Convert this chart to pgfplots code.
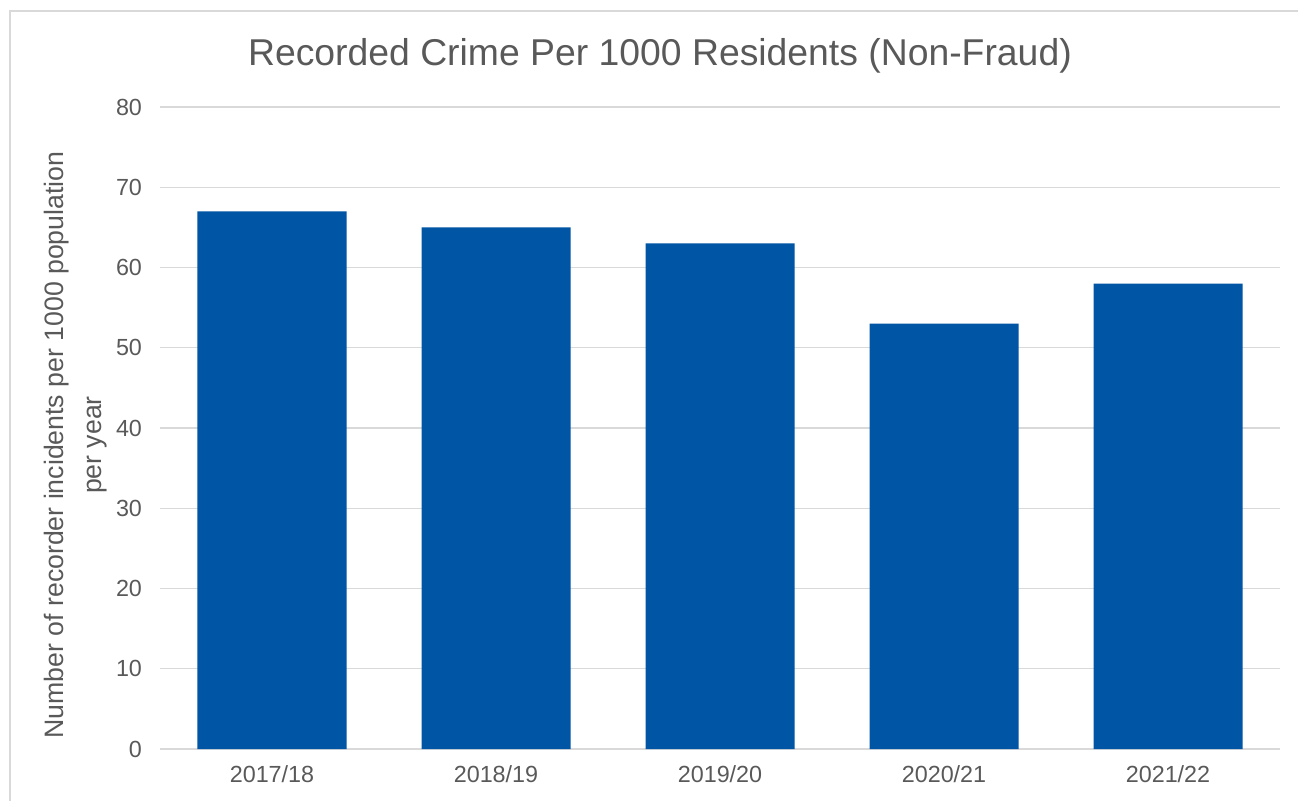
\documentclass[border=0pt]{standalone}
\usepackage{pgfplots}
\pgfplotsset{compat=1.18}
\usepackage{fontspec}
\setmainfont{Liberation Sans}
\definecolor{barblue}{HTML}{0055A4}
\definecolor{txtgray}{HTML}{595959}
\definecolor{gridgray}{HTML}{D9D9D9}
\definecolor{framegray}{HTML}{D9D9D9}

\begin{document}
\begin{tikzpicture}
\useasboundingbox (-120pt,-38.25pt) rectangle (853.5pt,561.75pt);
\draw[framegray, line width=1pt] (-112.5pt,-60pt) rectangle (880pt,553.5pt);
\begin{axis}[
  at={(0,0)}, anchor=south west,
  scale only axis,
  width=840pt, height=481.5pt,
  xmin=-0.5, xmax=4.5, ymin=0, ymax=80,
  ytick={0,10,...,80},
  xtick={0,1,2,3,4},
  xticklabels={2017/18,2018/19,2019/20,2020/21,2021/22},
  major tick length=0pt,
  axis line style={draw=none},
  ymajorgrids, grid style={gridgray, line width=0.9pt},
  /pgf/number format/assume math mode=true,
  tick label style={font=\fontsize{17.5}{20}\selectfont, text=txtgray},
  y tick label style={xshift=-10pt},
  x tick label style={yshift=-9pt},
  title={Recorded Crime Per 1000 Residents (Non-Fraud)},
  title style={at={(axis description cs:0.4464,1.068)}, anchor=center,
    font=\fontsize{28}{32}\selectfont, text=txtgray},
  ylabel={Number of recorder incidents per 1000 population\\per year},
  ylabel style={at={(axis description cs:-0.075,0.4735)}, anchor=center,
    align=center, font=\fontsize{20}{28.5}\selectfont, text=txtgray},
]
\addplot[ybar, bar width=111.75pt, fill=barblue, draw=none]
  coordinates {(0,67)(1,65)(2,63)(3,53)(4,58)};
\end{axis}
\end{tikzpicture}
\end{document}
